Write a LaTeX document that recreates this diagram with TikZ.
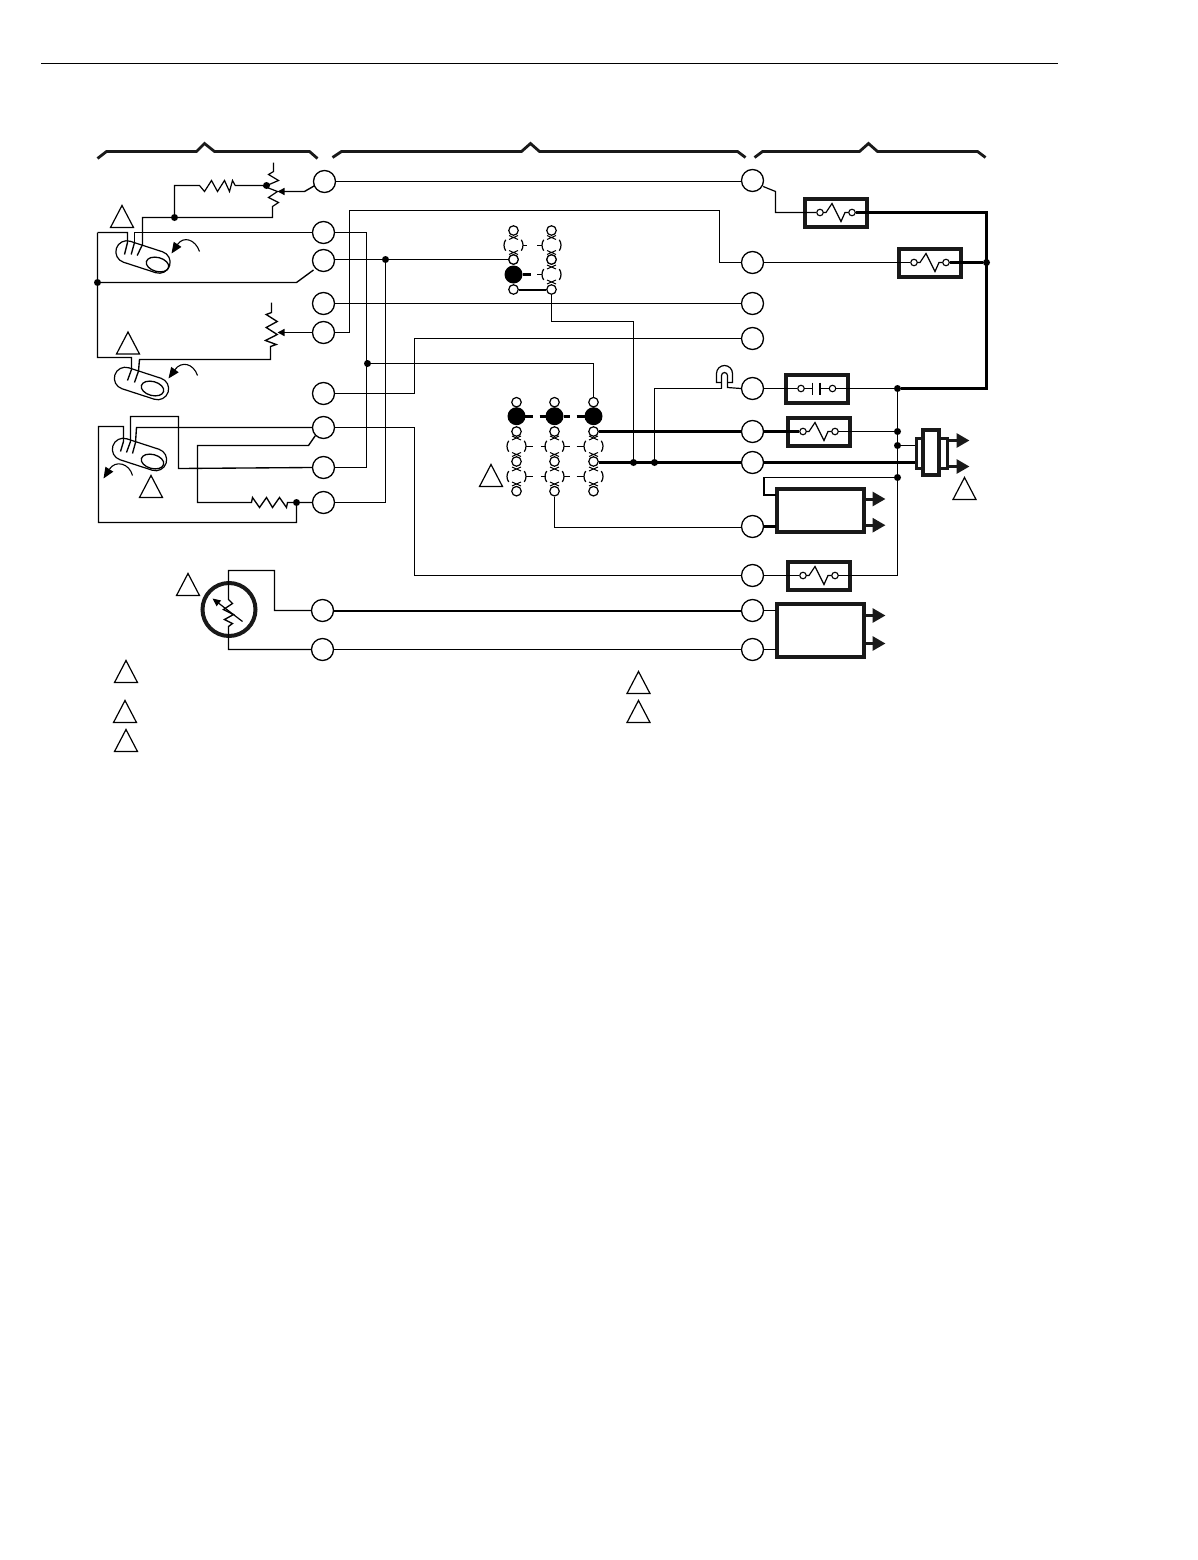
\documentclass[tikz,border=0pt]{standalone}
\usetikzlibrary{arrows.meta,shapes.geometric,shapes.misc}
\tikzset{
  thinw/.style={line width=1.2pt},
  medw/.style={line width=1.35pt},
  thickw/.style={line width=2.2pt},
  terminal/.style={circle,draw,line width=1.3pt,minimum size=22pt,inner sep=0pt,fill=white},
  pincircle/.style={circle,draw,line width=1.2pt,minimum size=9.5pt,inner sep=0pt,fill=white},
  swpin/.style={circle,draw,line width=1.1pt,minimum size=6.5pt,inner sep=0pt,fill=white},
  blackpin/.style={circle,fill=black,minimum size=18pt,inner sep=0pt},
  jdot/.style={circle,fill=black,minimum size=7pt,inner sep=0pt},
  devbox/.style={rectangle,draw=black!90,line width=4pt,inner sep=0pt},
  brace/.style={line width=2.8pt,line join=miter,black!90},
  warn/.style={line width=1.2pt,line join=miter},
  bulb/.style={rounded rectangle,draw,line width=1.2pt,minimum height=22pt,minimum width=56pt,inner sep=0pt,rotate=-18},
  bulbend/.style={ellipse,draw,line width=1.3pt,minimum height=14pt,minimum width=23pt,inner sep=0pt,rotate=-15},
  outarrow/.style={line width=3pt,-{Triangle[length=13pt,width=14pt]},black!90},
  curvearrow/.style={line width=1.1pt,-{Triangle[length=11pt,width=9pt]}},
  wiperarrow/.style={line width=1.4pt,-{Triangle[length=7pt,width=7pt]}}
}
\newcommand\warntri[2]{\draw[warn] (#1,#2) ++(-11.5,0) -- ++(23,0) -- ++(-11.5,-22) -- cycle;}
\newcommand\jumpdash[2]{\begin{scope}[shift={(#1,#2)}]\draw[line width=1.2pt] (-35:9.5pt) arc (-35:35:9.5pt) (145:9.5pt) arc (145:215:9.5pt);\end{scope}}
\newcommand\jumpx[2]{\begin{scope}[shift={(#1,#2)}]\draw[line width=1pt] (-4.5,-2) -- (4.5,2) (-4.5,2) -- (4.5,-2);\end{scope}}
\begin{document}
\begin{tikzpicture}[x=1pt,y=-1pt,line cap=butt]
\fill[white] (0,0) rectangle (1198,1560);
\useasboundingbox (0,0) rectangle (1198,1560);
\begin{scope}[shift={(-0.5,-0.5)}]
% header rule and braces
\draw[line width=1pt] (41.5,64) -- (1058.5,64);
\draw[brace] (98,159) -- (107,152) -- (197,152) -- (205,144) -- (215,152) -- (310,152) -- (318,159);
\draw[brace] (333,158) -- (342,152) -- (522,152) -- (531,144) -- (540,152) -- (738,152) -- (746,158);
\draw[brace] (755,158) -- (763,152) -- (860,152) -- (869,144) -- (878,152) -- (978,152) -- (986,158);
% terminals
\foreach \n/\x/\y in {L1/325/182,L2/324/233,L3/324/261,L4/324/304,L5/324/333,L6/324/394,L7/324/428,L8/324/468,L9/324/503,L10/323/611,L11/323/650,
 R1/753/181,R2/753/263,R3/753/304,R4/753/339,R5/753/389,R6/753/432,R7/753/463,R8/753/527,R9/753/576,R10/753/611,R11/753/650}
  \node[terminal] (\n) at (\x,\y) {};
% junction dots
\foreach \n/\x/\y in {jA/175/218,jB/267/186,jC/98/283,jD/368/364,jE/386/260,jF/297/503,jG/987/263,jH/898/389,jI/898/432,jJ/898/446,jK/898/478,jL/634/463,jM/655/463}
  \node[jdot] (\n) at (\x,\y) {};
% device boxes
\node[devbox,minimum width=62pt,minimum height=28pt] (B1) at (836,213) {};
\node[devbox,minimum width=62pt,minimum height=28pt] (B2) at (930,263) {};
\node[devbox,minimum width=62pt,minimum height=28pt] (B3) at (817,389) {};
\node[devbox,minimum width=62pt,minimum height=28pt] (B4) at (819,432) {};
\node[devbox,minimum width=62pt,minimum height=28pt] (B5) at (819,576) {};
\node[devbox,minimum width=87pt,minimum height=43pt] (M1) at (820.5,510.5) {};
\node[devbox,minimum width=87pt,minimum height=53pt] (M2) at (820.5,631) {};
% switch contacts
\foreach \n/\x/\y in {s1a/820.5/213,s1b/852.5/213,s2a/914.5/263,s2b/946.5/263,s3a/801.5/389,s3b/833/389,s4a/803.5/432,s4b/835.5/432,s5a/803.5/576,s5b/835.5/576}
  \node[swpin] (\n) at (\x,\y) {};
\foreach \a/\x/\y in {s1a/820.5/213,s2a/914.5/263,s4a/803.5/432,s5a/803.5/576}{
  \begin{scope}[shift={(\x,\y)}]
  \draw[line width=1.2pt,line join=miter] (3.3,0) -- (6,0) -- (12,-9) -- (21,9) -- (25,0) -- (28.7,0);
  \end{scope}}
\draw[line width=1.2pt] (s3a) -- (813,389) (813,383) -- (813,395);
\draw[line width=1.2pt] (820.5,383) -- (820.5,395) (820.5,389) -- (s3b);
% upper jumper block
\foreach \x in {514,552}{
  \jumpdash{\x}{245.7}
  \jumpx{\x}{238}
  \jumpx{\x}{253}
  \node[pincircle] at (\x,231) {};
  \node[pincircle] at (\x,260) {};
}
\jumpdash{552}{275}
\jumpx{552}{267.5}
\jumpx{552}{282.5}
\node[pincircle] at (552,260) {};
\node[blackpin] (ub) at (514,275) {};
\node[pincircle] (ua) at (514,260) {};
\node[pincircle] (uc) at (514,290) {};
\node[pincircle] (ud) at (552,290) {};
\draw[line width=1pt] (523.5,245.7) -- (527.5,245.7) (537.7,245.7) -- (542.5,245.7) (537.7,275) -- (542.5,275);
\draw[line width=3pt] (ub) -- (531,275);
\draw[line width=2pt] (uc) -- (ud);
% lower jumper block
\foreach \c/\x in {a/517,b/555,c/594}{
  \jumpdash{\x}{446.7}
  \jumpdash{\x}{477}
  \jumpx{\x}{438.5}
  \jumpx{\x}{455}
  \jumpx{\x}{469.5}
  \jumpx{\x}{484.5}
  \node[pincircle] (\c1) at (\x,402.7) {};
  \node[blackpin] (\c2) at (\x,416.7) {};
  \node[pincircle] (\c3) at (\x,432) {};
  \node[pincircle] (\c5) at (\x,462) {};
  \node[pincircle] (\c7) at (\x,491.7) {};
}
\foreach \y in {446.7,477}
  \draw[line width=1pt] (526,\y) -- (533,\y) (541,\y) -- (546,\y) (564,\y) -- (570,\y) (577,\y) -- (584,\y);
\draw[line width=3pt] (525,416.7) -- (533,416.7) (540,416.7) -- (547,416.7) (564,416.7) -- (570,416.7) (577,416.7) -- (585,416.7);
% wires middle
\draw[thinw] (L1.east) -- (R1.west |- L1.east);
\draw[line width=1.6pt] (L4.east) -- (R3.west);
\draw[thinw,line join=miter] (L5.east) -- (350,333) -- (350,211) -- (720,211) -- (720,263) -- (R2.west);
\draw[medw] (L2.east) -- (367,233) -- (367,468) -- (L8.east);
\draw[thinw] (jD) -- (594,364) -- (c1.north);
\draw[thinw] (L3.east |- jE) -- (jE) -- (ua.west |- jE);
\draw[medw] (jE) -- (386,503) -- (L9.east);
\draw[medw] (L6.east) -- (415,394) -- (415,339) -- (R4.west);
\draw[medw] (L7.east) -- (415,428) -- (415,576) -- (R9.west);
\draw[thinw] (ud.south) -- (552,322) -- (634,322) -- (jL);
\draw[thickw] (c3.east) -- (R6.west);
\draw[thickw] (c5.east |- R7) -- (R7.west);
\draw[thinw] (jM) -- (655,389) -- (722,389);
\draw[thinw] (b7.south) -- (555,528) -- (R8.west |- 555,528);
\draw[line width=2pt] (L10.east) -- (R10.west);
\draw[thinw] (L11.east) -- (R11.west);
% lamp
\draw[line width=1.2pt] (722,389) -- (722,376) arc (180:360:3) -- (728,388) -- (R5.west);
\draw[line width=1.2pt] (722,383) -- (717,383) -- (717,374) arc (180:360:8) -- (733,383) -- (728,383);
% right side wiring
\draw[thinw] (R1.east) ++(-1,6) -- (776,192) -- (776,213) -- (s1a);
\draw[thickw] (s1b) -- (987,213) -- (987,389) -- (jH);
\draw[thinw] (R2.east) -- (s2a);
\draw[line width=3pt] (s2b) -- (jG);
\draw[thinw] (R5.east) -- (s3a);
\draw[thinw] (s3b) -- (jH);
\draw[thinw] (jH) -- (898,576) -- (s5b);
\draw[thickw] (R6.east) -- (s4a);
\draw[line width=1.7pt] (s4b) -- (jI);
\draw[line width=1.7pt] (R9.east) -- (s5a);
\draw[thinw] (jJ) -- (916,446);
\draw[thickw] (R7.east) -- (916,463);
\draw[thinw] (jK) -- (764,478);
\draw[line width=2pt] (764,477.5) -- (764,495) -- (776,495);
\draw[thickw] (R8.east) -- (776,527);
\draw[thinw] (R10.east) -- (776,611);
\draw[thinw] (R11.east) -- (776,650);
% actuator
\node[rectangle,draw=black!90,line width=3pt,minimum width=31pt,minimum height=30pt,inner sep=0pt] (act) at (932,453.5) {};
\node[rectangle,draw=black!90,fill=white,line width=3.8pt,minimum width=16pt,minimum height=45pt,inner sep=0pt] (actc) at (931.5,453) {};
\coordinate (o1) at (970,441);\coordinate (o2) at (970,467);
\draw[outarrow] (948,441) -- (o1);
\draw[outarrow] (948,467) -- (o2);
\draw[outarrow] (865,499.5) -- (886,499.5);
\draw[outarrow] (865,525.7) -- (886,525.7);
\draw[outarrow] (865,616) -- (886,616);
\draw[outarrow] (865,644) -- (886,644);
% sensors, top bulb
\node[bulb] (b1) at (143.5,257.5) {};
\node[bulbend] (e1) at (158,265) {};
\draw[medw,line join=miter] (L2.west) -- (135,233) -- (135,243);
\draw[medw] (135,243) -- (131.7,255);
\draw[medw] (98,233) -- (128,233) -- (128,243) -- (125,255);
\draw[medw] (jA) -- (143,218) -- (143,245) -- (137.7,256);
\draw[medw] (98,233) -- (jC) -- (98,358) -- (132,358) -- (132,370) -- (128,381);
\draw[medw] (jC) -- (297,283) -- (314,270.5);
\draw[thinw] (jA) -- (273,218) -- (273,207) -- (279,203) -- (269,198) -- (278,192) -- (265,187) -- (279,181) -- (269,175) -- (274,172) -- (274,163);
\draw[thinw,line join=miter] (jA) -- (175,186) -- (200,186) -- (205,192) -- (212,181) -- (218,192) -- (225,181) -- (230,192) -- (233,181) -- (235.7,186) -- (jB);
\draw[wiperarrow] (L1.west) ++(2,4) -- (305,192) -- (278,192);
% second bulb
\node[bulb] (b2) at (142,384) {};
\node[bulbend] (e2) at (153,389) {};
\draw[medw] (135,383) -- (139,371.5) -- (140,360) -- (271,360) -- (271,347) -- (276.7,345) -- (266,341) -- (277.7,335) -- (266.7,328) -- (277.7,322) -- (266.7,315) -- (272,313) -- (272,303);
\draw[wiperarrow] (L5.west) -- (278,333);
% third bulb
\node[bulb] (b3) at (140,455) {};
\node[bulbend] (e3) at (153,462) {};
\draw[medw] (L7.west) -- (137,428) -- (136,443) -- (133,454);
\draw[medw] (L8.west) -- (179,469) -- (179,417) -- (131,417) -- (131,442) -- (127,453);
\draw[medw] (121,452) -- (124,442) -- (124,427) -- (99,427) -- (99,523) -- (297,523) -- (jF);
\draw[medw] (L7.south west) -- (309,446) -- (198,446) -- (198,503) -- (252,503) -- (253,498) -- (260,508) -- (267,498) -- (273,508) -- (280,498) -- (287,508) -- (288,503) -- (jF) -- (L9.west);
% rotation arrows
\draw[curvearrow] (200,252) .. controls (196,240) and (184,236) .. (172,254);
\draw[curvearrow] (198,376) .. controls (194,364) and (182,361) .. (169,379);
\draw[curvearrow] (133,476) .. controls (130,464) and (116,460) .. (104,479);
% probe
\node[circle,draw=black!90,line width=4pt,minimum size=53pt,inner sep=0pt] (pr) at (229.5,610) {};
\draw[medw] (L10.west) -- (275,611) -- (275,571) -- (229,571) -- (229,600) -- (233,604) -- (224,610) -- (234,615) -- (225,620) -- (233,624) -- (229,627) -- (229,650) -- (L11.west);
\draw[line width=1.2pt,-{Triangle[length=8pt,width=7pt]}] (243,622) -- (213,599);
% warning triangles
\warntri{122.5}{228}
\warntri{128.5}{354.5}
\warntri{151.5}{498}
\warntri{188.5}{596}
\warntri{126.5}{683}
\warntri{125.5}{723}
\warntri{126.5}{752}
\warntri{639}{694}
\warntri{639}{723}
\warntri{491.5}{487}
\warntri{965}{500}
\end{scope}
\end{tikzpicture}
\end{document}
